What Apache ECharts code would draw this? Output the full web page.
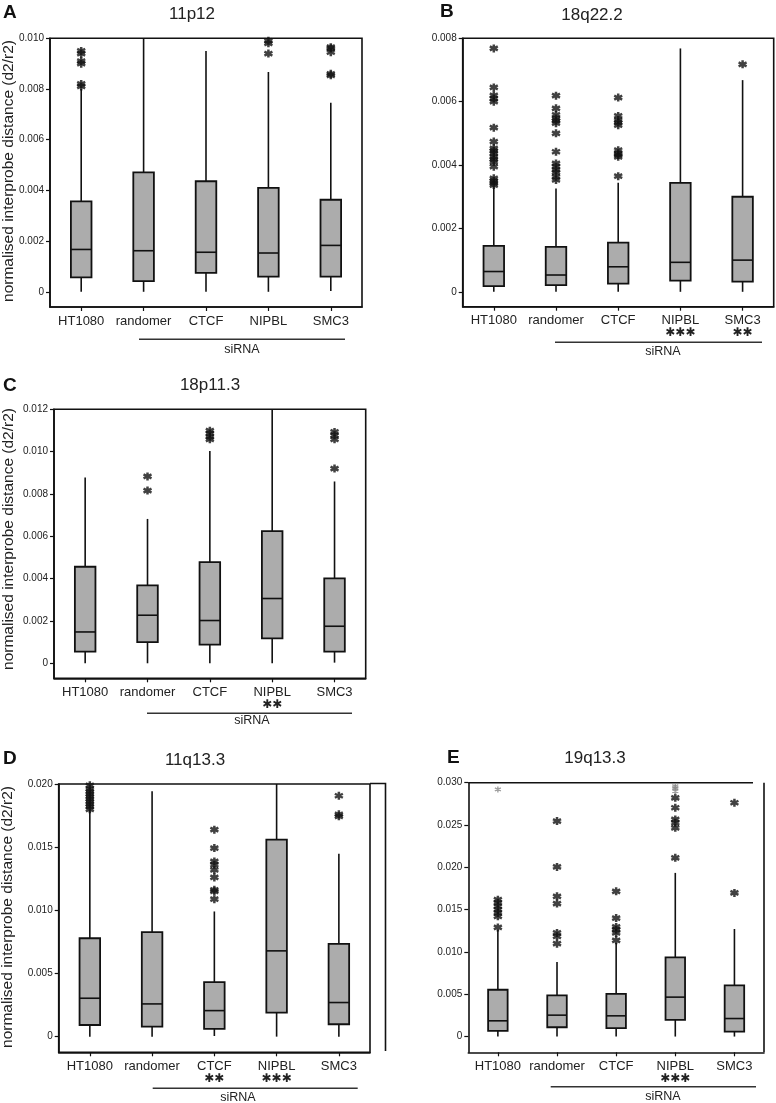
<!DOCTYPE html>
<html>
<head>
<meta charset="utf-8">
<script src="https://cdn.jsdelivr.net/npm/echarts@6/dist/echarts.min.js"></script>
<style>
html,body{margin:0;padding:0;background:#fff;}
#chart{width:776px;height:1103px;}
</style>
</head>
<body>
<div id="chart"></div>
<script>
// ---------- DATA ----------
const categories = ['HT1080', 'randomer', 'CTCF', 'NIPBL', 'SMC3'];
const titles = ['11p12', '18q22.2', '18p11.3', '11q13.3', '19q13.3'];
const letters = ['A', 'B', 'C', 'D', 'E'];
const yAxisName = 'normalised interprobe distance (d2/r2)';
const groupLabel = 'siRNA';

// box stats per category: [min, Q1, median, Q3, max]
const boxA = [
  [0, 0.00057, 0.00167, 0.00357, 0.0080],
  [0, 0.00042, 0.00162, 0.00471, 0.0100],
  [0, 0.00075, 0.00156, 0.00436, 0.0095],
  [0, 0.00060, 0.00153, 0.00410, 0.00867],
  [0.00003, 0.00060, 0.00183, 0.00363, 0.00746]
];
const outA = [
  [0.0081, 0.0082, 0.0090, 0.0091, 0.0094, 0.0095],
  [],
  [],
  [0.0094, 0.0098, 0.0099],
  [0.00854, 0.0086, 0.00945, 0.0096, 0.00965]
];
const boxB = [
  [0, 0.00018, 0.00064, 0.00145, 0.0033],
  [0, 0.00021, 0.00053, 0.00142, 0.00326],
  [0, 0.00026, 0.00079, 0.00155, 0.00344],
  [0, 0.00035, 0.00093, 0.00344, 0.00768],
  [0, 0.00032, 0.00100, 0.00300, 0.00668]
];
const outB = [
  [0.00337, 0.00343, 0.0035, 0.00358, 0.00395, 0.0041, 0.00418, 0.00426, 0.00437, 0.00445, 0.00453, 0.00474, 0.00518, 0.0060, 0.0061, 0.0062, 0.00645, 0.00768],
  [0.00353, 0.00363, 0.00376, 0.00385, 0.00395, 0.00405, 0.00442, 0.0050, 0.00532, 0.0054, 0.00547, 0.00558, 0.00579, 0.00619],
  [0.00365, 0.00426, 0.00432, 0.00437, 0.00447, 0.00526, 0.00534, 0.00542, 0.00555, 0.00613],
  [],
  [0.00718]
];
const boxC = [
  [0, 0.00055, 0.00148, 0.00456, 0.00878],
  [0, 0.00100, 0.00227, 0.00368, 0.00682],
  [0, 0.00088, 0.00202, 0.00478, 0.01003],
  [0, 0.00118, 0.00306, 0.00624, 0.0120],
  [0.00003, 0.00055, 0.00175, 0.00401, 0.00859]
];
const outC = [
  [],
  [0.00816, 0.00883],
  [0.01058, 0.0107, 0.01086, 0.01099],
  [],
  [0.0092, 0.01058, 0.01077, 0.01093]
];
const boxD = [
  [0, 0.00092, 0.00304, 0.00779, 0.01797],
  [0, 0.00079, 0.00259, 0.00827, 0.01942],
  [0.00005, 0.00061, 0.00206, 0.00431, 0.00991],
  [0, 0.00190, 0.00679, 0.01559, 0.0200],
  [0, 0.00098, 0.00270, 0.00734, 0.01448]
];
const outD = [
  [0.0180, 0.0182, 0.0184, 0.0186, 0.0188, 0.0190, 0.0192, 0.0194, 0.0196, 0.0199],
  [],
  [0.01088, 0.0115, 0.01162, 0.0126, 0.0132, 0.0136, 0.01387, 0.01493, 0.01638],
  [],
  [0.01744, 0.0176, 0.01907]
];
const boxE = [
  [0, 0.00067, 0.00186, 0.00553, 0.01263],
  [0, 0.00110, 0.00253, 0.00486, 0.0088],
  [0, 0.00099, 0.00245, 0.00505, 0.01105],
  [0, 0.00197, 0.00466, 0.00936, 0.01934],
  [0, 0.00059, 0.00213, 0.00604, 0.01271]
];
const outE = [
  [0.0129, 0.01421, 0.01461, 0.0150, 0.0154, 0.0158, 0.01618],
  [0.01097, 0.01184, 0.01224, 0.01571, 0.01658, 0.02005, 0.02546],
  [0.01137, 0.01224, 0.01263, 0.01295, 0.01401, 0.01717],
  [0.02112, 0.02467, 0.02526, 0.02566, 0.02704, 0.02822],
  [0.01697, 0.02763]
];
const faintE = [[0.0292], [], [], [0.0290, 0.0294, 0.0296], []];

const sigA = ['', '', '', '', ''];
const sigB = ['', '', '', '***', '**'];
const sigC = ['', '', '', '**', ''];
const sigD = ['', '', '**', '***', ''];
const sigE = ['', '', '', '***', ''];

const ticksA = [0, 0.002, 0.004, 0.006, 0.008, 0.010];
const ticksB = [0, 0.002, 0.004, 0.006, 0.008];
const ticksC = [0, 0.002, 0.004, 0.006, 0.008, 0.010, 0.012];
const ticksD = [0, 0.005, 0.010, 0.015, 0.020];
const ticksE = [0, 0.005, 0.010, 0.015, 0.020, 0.025, 0.030];

// ---------- LAYOUT ----------
const panels = [
  {box: boxA, out: outA, faint: null, sig: sigA, ticks: ticksA, ymin: -0.0006, ymax: 0.010,
   grid: {left: 50, top: 38.3, width: 312, height: 268.7}, frame: true,
   title: [192, 14], letter: [3, 13], ylab: [9, 171],
   line: [139, 345, 339.3], grp: [242, 350]},
  {box: boxB, out: outB, faint: null, sig: sigB, ticks: ticksB, ymin: -0.00047, ymax: 0.008,
   grid: {left: 462.7, top: 38.3, width: 311, height: 268.4}, frame: true,
   title: [592, 15], letter: [440, 12], ylab: null,
   line: [555, 762, 342.3], grp: [663, 352]},
  {box: boxC, out: outC, faint: null, sig: sigC, ticks: ticksC, ymin: -0.00071, ymax: 0.012,
   grid: {left: 54, top: 409.3, width: 311.7, height: 269}, frame: true,
   title: [210, 385], letter: [3, 386], ylab: [9, 539],
   line: [147, 352, 713.3], grp: [252, 721]},
  {box: boxD, out: outD, faint: null, sig: sigD, ticks: ticksD, ymin: -0.00124, ymax: 0.020,
   grid: {left: 58.7, top: 784, width: 311.3, height: 268.3}, frame: true,
   title: [195, 760], letter: [3, 759], ylab: [8, 917],
   line: [152.7, 357.7, 1088.3], grp: [238, 1098]},
  {box: boxE, out: outE, faint: faintE, sig: sigE, ticks: ticksE, ymin: -0.00186, ymax: 0.030,
   grid: {left: 468.3, top: 782.7, width: 295.7, height: 269.6}, frame: false,
   title: [595, 758], letter: [447, 758], ylab: null,
   line: [550.7, 756, 1086.7], grp: [663, 1097]}
];

const INK = '#111111';
const BOXFILL = '#acacac';
const SANS = "'Liberation Sans', Arial, sans-serif";
const ASTER = 'path://M5,0L5,10M0.67,2.5L9.33,7.5M0.67,7.5L9.33,2.5';

const grids = [], xAxes = [], yAxes = [], series = [], graphics = [];

function boxRender(params, api) {
  const x = api.value(0);
  const pMin = api.coord([x, api.value(1)]);
  const pQ1 = api.coord([x, api.value(2)]);
  const pMed = api.coord([x, api.value(3)]);
  const pQ3 = api.coord([x, api.value(4)]);
  const pMax = api.coord([x, api.value(5)]);
  const w = api.size([1, 0])[0] * 0.33;
  const cx = pMin[0];
  const ls = {stroke: INK, lineWidth: 1.6};
  return {type: 'group', children: [
    {type: 'line', shape: {x1: cx, y1: pMin[1], x2: cx, y2: pQ1[1]}, style: ls},
    {type: 'line', shape: {x1: cx, y1: pQ3[1], x2: cx, y2: pMax[1]}, style: ls},
    {type: 'rect', shape: {x: cx - w / 2, y: pQ3[1], width: w, height: pQ1[1] - pQ3[1]},
      style: {fill: BOXFILL, stroke: INK, lineWidth: 1.8}},
    {type: 'line', shape: {x1: cx - w / 2, y1: pMed[1], x2: cx + w / 2, y2: pMed[1]}, style: {stroke: INK, lineWidth: 1.6}}
  ]};
}

panels.forEach(function (p, i) {
  grids.push(Object.assign({
    show: p.frame, borderColor: INK, borderWidth: 1.6, backgroundColor: 'transparent'
  }, p.grid));
  const sig = p.sig;
  xAxes.push({
    type: 'category', gridIndex: i, data: categories, boundaryGap: true, position: 'bottom',
    axisLine: {show: true, onZero: false, lineStyle: {color: INK, width: 1.6}},
    axisTick: {show: true, alignWithLabel: true, length: 4, lineStyle: {color: INK, width: 1.2}},
    axisLabel: {
      color: '#222', fontSize: 13, fontFamily: SANS, margin: 8, lineHeight: 12, interval: 0,
      formatter: function (v, idx) {
        return sig[idx] ? v + '\n{s|' + sig[idx].replace(/\*/g, '\u2731') + '}' : v;
      },
      rich: {s: {fontSize: 12, lineHeight: 13, fontFamily: "'DejaVu Sans', sans-serif", color: '#222'}}
    },
    splitLine: {show: false}
  });
  const ticks = p.ticks;
  yAxes.push({
    type: 'value', gridIndex: i, min: p.ymin, max: p.ymax,
    axisLine: {show: true, lineStyle: {color: INK, width: 1.6}},
    axisTick: {show: true, length: 4, customValues: ticks, lineStyle: {color: INK, width: 1.2}},
    axisLabel: {
      customValues: ticks, color: '#222', fontSize: 10, fontFamily: SANS, margin: 6,
      formatter: function (v) { return Math.abs(v) < 1e-12 ? '0' : v.toFixed(3); }
    },
    splitLine: {show: false}
  });
  series.push({
    type: 'custom', xAxisIndex: i, yAxisIndex: i, renderItem: boxRender, silent: true,
    encode: {x: 0, y: [1, 2, 3, 4, 5]},
    data: p.box.map(function (b, k) { return [k].concat(b); })
  });
  const outPts = [];
  p.out.forEach(function (arr, k) { arr.forEach(function (v) { outPts.push([k, v]); }); });
  series.push({
    type: 'scatter', xAxisIndex: i, yAxisIndex: i, silent: true, symbol: ASTER, symbolSize: 8,
    itemStyle: {color: INK, borderColor: INK, borderWidth: 2.5}, data: outPts
  });
  if (p.faint) {
    const fPts = [];
    p.faint.forEach(function (arr, k) { arr.forEach(function (v) { fPts.push([k, v]); }); });
    series.push({
      type: 'scatter', xAxisIndex: i, yAxisIndex: i, silent: true, symbol: ASTER, symbolSize: 6,
      itemStyle: {color: '#888', borderColor: '#888', borderWidth: 1.4}, data: fPts
    });
  }
  graphics.push({type: 'text', x: p.title[0], y: p.title[1],
    style: {text: titles[i], font: '17px ' + SANS, fill: '#222', textAlign: 'center', textVerticalAlign: 'middle'}});
  graphics.push({type: 'text', x: p.letter[0], y: p.letter[1],
    style: {text: letters[i], font: 'bold 19px ' + SANS, fill: '#111', textAlign: 'left', textVerticalAlign: 'middle'}});
  if (p.ylab) {
    graphics.push({type: 'text', x: p.ylab[0], y: p.ylab[1], rotation: Math.PI / 2,
      style: {text: yAxisName, font: '15.5px ' + SANS, fill: '#222', textAlign: 'center', textVerticalAlign: 'middle'}});
  }
  graphics.push({type: 'line', shape: {x1: p.line[0], y1: p.line[2], x2: p.line[1], y2: p.line[2]},
    style: {stroke: '#333', lineWidth: 1.4}});
  graphics.push({type: 'text', x: p.grp[0], y: p.grp[1],
    style: {text: groupLabel, font: '12.5px ' + SANS, fill: '#222', textAlign: 'center', textVerticalAlign: 'middle'}});
});

// panel E frame (open top-right corner) and stray bracket line
graphics.push({type: 'line', shape: {x1: 468.3, y1: 782.7, x2: 753, y2: 782.7}, style: {stroke: INK, lineWidth: 1.6}});
graphics.push({type: 'line', shape: {x1: 764, y1: 782.7, x2: 764, y2: 1052.3}, style: {stroke: INK, lineWidth: 1.6}});
graphics.push({type: 'polyline', shape: {points: [[370, 783.5], [385.5, 783.5], [385.5, 1051]]},
  style: {stroke: INK, lineWidth: 1.6, fill: null}});

const chart = echarts.init(document.getElementById('chart'), null, {renderer: 'canvas'});
chart.setOption({
  animation: false,
  backgroundColor: '#fff',
  grid: grids,
  xAxis: xAxes,
  yAxis: yAxes,
  series: series,
  graphic: graphics
});
</script>
</body>
</html>
